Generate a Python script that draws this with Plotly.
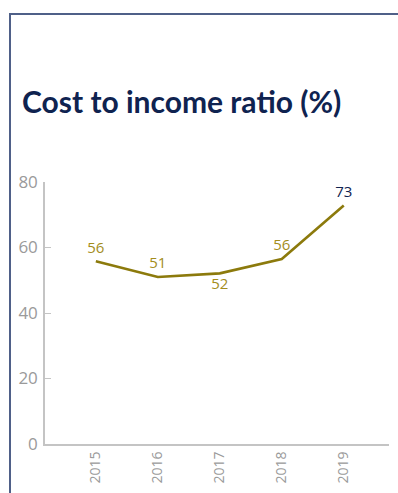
import plotly.graph_objects as go

# Cost to income ratio by year
years = ["2015", "2016", "2017", "2018", "2019"]
ratio = [55.8, 51.0, 52.1, 56.5, 72.8]
labels = ["56", "51", "52", "56", "73"]
label_pos = ["top center", "top center", "bottom center", "top center", "top center"]

y_ticks = [0, 20, 40, 60, 80]

NAVY = "#0f2350"
OLIVE = "#8c7a0c"
LABEL_OLIVE = "#a38d1c"
GRAY = "#9a9a9a"
FRAME = "#4f6088"

label_colors = [LABEL_OLIVE] * (len(years) - 1) + [NAVY]

fig = go.Figure()
fig.add_trace(
    go.Scatter(
        x=years,
        y=ratio,
        mode="lines+markers+text",
        line=dict(color=OLIVE, width=2.6),
        marker=dict(size=6, color="rgba(0,0,0,0)"),
        text=labels,
        textposition=label_pos,
        textfont=dict(family="Open Sans", size=15, color=label_colors),
        cliponaxis=False,
        hoverinfo="skip",
    )
)

W, H = 398, 493
ml, mr, mt, mb = 45, 9, 182, 49
pw, ph = W - ml - mr, H - mt - mb


def px_x(p):
    return (p - ml) / pw


def px_y(p):
    return (H - mb - p) / ph


# frame lines along the left and top edges
fig.add_shape(type="line", xref="paper", yref="paper",
              x0=px_x(10), x1=px_x(10), y0=px_y(13), y1=px_y(H + 5),
              line=dict(color=FRAME, width=2))
fig.add_shape(type="line", xref="paper", yref="paper",
              x0=px_x(9), x1=px_x(W + 5), y0=px_y(14), y1=px_y(14),
              line=dict(color=FRAME, width=2))

fig.add_annotation(
    text="<b>Cost to income ratio (%)</b>",
    xref="paper", yref="paper",
    x=px_x(20), y=px_y(101),
    xanchor="left", yanchor="middle",
    showarrow=False,
    font=dict(family="Lato", size=30, color=NAVY),
)

fig.update_layout(
    width=W, height=H,
    margin=dict(l=ml, r=mr, t=mt, b=mb),
    paper_bgcolor="white",
    plot_bgcolor="white",
    showlegend=False,
    font=dict(family="Open Sans", color=GRAY),
)

fig.update_xaxes(
    type="category",
    range=[-0.82, 4.73],
    showgrid=False,
    zeroline=False,
    showline=True,
    linecolor="#c4c4c4",
    linewidth=2,
    ticks="",
    tickangle=-90,
    tickfont=dict(family="Open Sans", size=14, color=GRAY),
)
fig.update_yaxes(
    range=[0, 80],
    tickvals=y_ticks,
    showgrid=False,
    zeroline=False,
    showline=True,
    linecolor="#c4c4c4",
    linewidth=1.5,
    ticks="inside",
    ticklen=6,
    tickcolor="#c4c4c4",
    ticklabelstandoff=2,
    tickfont=dict(family="Open Sans", size=17, color=GRAY),
)

fig.write_html("out.html")
